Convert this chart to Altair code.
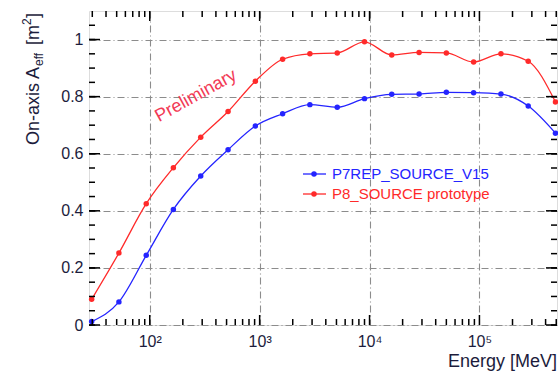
import altair as alt
import pandas as pd
import numpy as np

# ---- data ----
energy = [29.6, 52.4, 92.9, 164, 291, 516, 914, 1618, 2866, 5082, 8995,
          15920, 28250, 50000, 88510, 157000, 278000, 492000]
aeff_p7 = [0.012, 0.081, 0.244, 0.405, 0.522, 0.614, 0.697, 0.740, 0.772,
           0.763, 0.793, 0.808, 0.809, 0.815, 0.814, 0.809, 0.767, 0.672]
aeff_p8 = [0.090, 0.252, 0.425, 0.551, 0.658, 0.748, 0.854, 0.931, 0.950,
           0.953, 0.992, 0.946, 0.955, 0.953, 0.921, 0.950, 0.924, 0.781]
series = ["P7REP_SOURCE_V15", "P8_SOURCE prototype"]
colors = ["#2424ff", "#ff2a2a"]
x_major = [100, 1000, 10000, 100000]
x_labels = ["10²", "10³", "10⁴", "10⁵"]
y_major = [0, 0.2, 0.4, 0.6, 0.8, 1.0]
x_domain = [28, 508000]
y_domain = [0, 1.1]

W, H = 468, 314
FONT = "Liberation Sans"
LABEL_COLOR = "#1c1c3c"

df = pd.DataFrame({
    "energy": energy * 2,
    "aeff": aeff_p7 + aeff_p8,
    "series": [series[0]] * len(energy) + [series[1]] * len(energy),
})

xs = alt.Scale(type="log", domain=x_domain, nice=False)
ys = alt.Scale(domain=y_domain, nice=False)
cs = alt.Scale(domain=series, range=colors)

label_expr = " : ".join(
    f"datum.value == {v} ? '{l}'" for v, l in zip(x_major, x_labels)
) + " : ''"

grid_style = dict(grid=True, gridDash=[7, 3, 1, 3], gridColor="#8c8c8c", gridWidth=1.1)
x_axis = alt.Axis(values=x_major, labelExpr=label_expr, ticks=False, domain=False,
                  labelFont=FONT, labelFontSize=16, labelColor=LABEL_COLOR,
                  labelPadding=8, title=None, **grid_style)
y_axis = alt.Axis(values=y_major, format="~g", ticks=False, domain=False,
                  labelFont=FONT, labelFontSize=16, labelColor=LABEL_COLOR,
                  labelPadding=6, title=None, **grid_style)

base = alt.Chart(df)
lines = base.mark_line(strokeWidth=1.3, interpolate="monotone").encode(
    x=alt.X("energy:Q", scale=xs, axis=x_axis),
    y=alt.Y("aeff:Q", scale=ys, axis=y_axis),
    color=alt.Color("series:N", scale=cs, legend=None),
)
points = base.mark_circle(size=30, opacity=1).encode(
    x=alt.X("energy:Q", scale=xs),
    y=alt.Y("aeff:Q", scale=ys),
    color=alt.Color("series:N", scale=cs, legend=None),
)

# ---- inward ticks on all four sides ----
x_minor = [m * 10 ** e for e in range(1, 6) for m in range(2, 10)
           if x_domain[0] <= m * 10 ** e <= x_domain[1]]
y_minor = [round(v, 2) for v in np.arange(0, 1.1, 0.05)]
tick_style = dict(color="black", strokeWidth=1.5)


def xticks(vals, length):
    d = alt.Chart(pd.DataFrame({"v": vals}))
    xe = alt.X("v:Q", scale=xs)
    bottom = d.mark_rule(**tick_style).encode(x=xe, y=alt.value(H), y2=alt.value(H - length))
    top = d.mark_rule(**tick_style).encode(x=xe, y=alt.value(0), y2=alt.value(length))
    return bottom + top


def yticks(vals, length):
    d = alt.Chart(pd.DataFrame({"v": vals}))
    ye = alt.Y("v:Q", scale=ys)
    left = d.mark_rule(**tick_style).encode(y=ye, x=alt.value(0), x2=alt.value(length))
    right = d.mark_rule(**tick_style).encode(y=ye, x=alt.value(W), x2=alt.value(W - length))
    return left + right


one = pd.DataFrame({"t": [0]})


def text(s, x, y, **kw):
    return alt.Chart(one).mark_text(text=s, font=FONT, **kw).encode(
        x=alt.value(x), y=alt.value(y))


# ---- legend ----
legend_layers = []
for i, (name, col) in enumerate(zip(series, colors)):
    ly = 163 + 20 * i
    legend_layers.append(alt.Chart(one).mark_rule(color=col, strokeWidth=1.3).encode(
        x=alt.value(214), x2=alt.value(237), y=alt.value(ly)))
    legend_layers.append(alt.Chart(one).mark_circle(color=col, size=30, opacity=1).encode(
        x=alt.value(225), y=alt.value(ly)))
    legend_layers.append(text(name, 243, ly, fontSize=15, color=col,
                              align="left", baseline="middle"))

# ---- titles and annotation ----
rot = dict(angle=270, align="left", baseline="alphabetic", color=LABEL_COLOR)
ytitle = [
    text("On-axis A", -50, 134, fontSize=18, **rot),
    text("eff", -46, 55, fontSize=12, **rot),
    text("[m", -50, 34, fontSize=18, **rot),
    text("2", -58, 14, fontSize=12, **rot),
    text("]", -50, 7, fontSize=18, **rot),
]
xtitle = text("Energy [MeV]", W, H + 42, fontSize=18, align="right",
              baseline="alphabetic", color=LABEL_COLOR)
prelim = text("Preliminary", 107, 85, fontSize=18, angle=331, align="center",
              baseline="middle", color="#f23a55")

chart = alt.layer(
    lines, points,
    xticks(x_minor, 6), xticks(x_major, 10),
    yticks(y_minor, 6), yticks(y_major, 11),
    *legend_layers, *ytitle, xtitle, prelim,
).properties(
    width=W, height=H,
    padding={"left": 89, "top": 11, "right": 1, "bottom": 46},
    autosize=alt.AutoSizeParams(type="none"),
).configure_view(
    stroke="black", strokeWidth=1.5
).configure(background="white")

chart.save("out.html", embed_options={"renderer": "svg", "actions": False})
